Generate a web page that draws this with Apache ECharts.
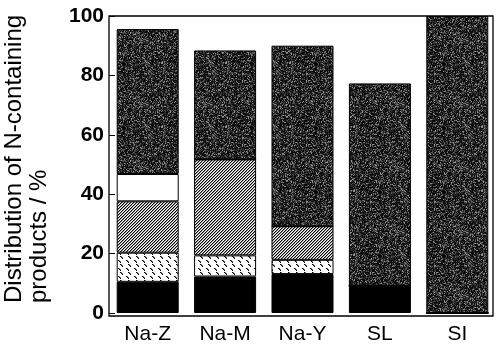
<!DOCTYPE html>
<html>
<head>
<meta charset="utf-8">
<script src="https://cdn.jsdelivr.net/npm/echarts@6/dist/echarts.min.js"></script>
<style>
  html, body { margin: 0; padding: 0; background: #fff; }
  #chart { width: 496px; height: 345px; }
</style>
</head>
<body>
<div id="chart"></div>
<script>
// Catalysts on the x axis
var categories = ['Na-Z', 'Na-M', 'Na-Y', 'SL', 'SI'];

// Share of each N-containing product (%), stacked bottom to top
var solidBlack = [10.5, 12.3, 13.1, 9.2, 0];
var dashed     = [9.8, 7.1, 4.8, 0, 0];
var hatched    = [17.3, 32.3, 11.3, 0, 0];
var blank      = [9.2, 0, 0, 0, 0];
var stippled   = [48.8, 36.7, 60.8, 68.1, 100];

var yTicks = [0, 20, 40, 60, 80, 100];

var FONT = '"Liberation Sans", Arial, Helvetica, sans-serif';

// ---- fill textures ----
function makeCanvas(w, h) {
  var c = document.createElement('canvas');
  c.width = w; c.height = h;
  return c;
}

// dark grey speckle
function stipplePattern() {
  var w = 64, h = 64;
  var c = makeCanvas(w, h), ctx = c.getContext('2d');
  var img = ctx.createImageData(w, h);
  var seed = 12345;
  function rnd() { seed = (seed * 1103515245 + 12345) & 0x7fffffff; return seed / 0x7fffffff; }
  for (var i = 0; i < w * h; i++) {
    var r = rnd();
    var g = r < 0.45 ? 12 : r < 0.72 ? 45 : r < 0.9 ? 85 : 140;
    img.data[i * 4] = g; img.data[i * 4 + 1] = g; img.data[i * 4 + 2] = g; img.data[i * 4 + 3] = 255;
  }
  ctx.putImageData(img, 0, 0);
  return c;
}

// fine "/" diagonal hatching
function hatchPattern() {
  var n = 3;
  var c = makeCanvas(n, n), ctx = c.getContext('2d');
  ctx.fillStyle = '#fff'; ctx.fillRect(0, 0, n, n);
  for (var i = 0; i < n; i++) {
    ctx.fillStyle = '#000';
    ctx.fillRect(i, n - 1 - i, 1, 1);
    ctx.fillStyle = '#9a9a9a';
    ctx.fillRect(i, (n - i) % n, 1, 1);
  }
  return c;
}

// short "\" dashes on white, staggered rows
function dashPattern() {
  var w = 8, h = 8;
  var c = makeCanvas(w, h), ctx = c.getContext('2d');
  ctx.fillStyle = '#fff'; ctx.fillRect(0, 0, w, h);
  ctx.fillStyle = '#000';
  [[0, 0], [1, 1], [2, 2], [6, 4], [7, 5], [0, 6]].forEach(function (p) {
    ctx.fillRect(p[0], p[1], 1, 1);
  });
  ctx.fillStyle = '#777';
  [[1, 0], [2, 1], [7, 4], [0, 5]].forEach(function (p) {
    ctx.fillRect(p[0], p[1], 1, 1);
  });
  return c;
}

var fills = {
  black: '#000',
  dashed: { image: dashPattern(), repeat: 'repeat' },
  hatched: { image: hatchPattern(), repeat: 'repeat' },
  blank: '#fff',
  stippled: { image: stipplePattern(), repeat: 'repeat' }
};

function layer(name, data, fill) {
  return {
    name: name,
    type: 'bar',
    stack: 'total',
    data: data,
    barWidth: 62,
    xAxisIndex: 0,
    yAxisIndex: 0,
    itemStyle: { color: fill, borderColor: '#000', borderWidth: 1 },
    emphasis: { disabled: true },
    animation: false
  };
}

var chart = echarts.init(document.getElementById('chart'), null, { renderer: 'canvas' });

chart.setOption({
  animation: false,
  backgroundColor: '#fff',
  grid: [
    // plotting grid for the bars
    { left: 109, top: 16, width: 392.5, height: 300, containLabel: false },
    // frame around the plot area
    { left: 109, top: 16, width: 384, height: 300, show: true, borderColor: '#000', borderWidth: 1.3, backgroundColor: 'transparent', z: 10 }
  ],
  xAxis: [
    {
      type: 'category',
      gridIndex: 0,
      data: categories,
      boundaryGap: true,
      axisLine: { show: false },
      axisTick: { show: false },
      axisLabel: { color: '#000', fontFamily: FONT, fontSize: 21, margin: 11 }
    },
    { type: 'value', gridIndex: 1, show: false, min: 0, max: 1 }
  ],
  yAxis: [
    {
      type: 'value',
      gridIndex: 0,
      min: yTicks[0],
      max: yTicks[yTicks.length - 1],
      interval: yTicks[1] - yTicks[0],
      axisLine: { show: false },
      axisTick: { show: true, inside: true, length: 6, lineStyle: { color: '#000', width: 1 } },
      splitLine: { show: false },
      axisLabel: { color: '#000', fontFamily: FONT, fontSize: 21, fontWeight: 'bold', margin: 5 }
    },
    { type: 'value', gridIndex: 1, show: false, min: 0, max: 1 }
  ],
  graphic: [
    {
      type: 'text',
      x: 2,
      y: 303,
      rotation: Math.PI / 2,
      style: {
        text: 'Distribution of N-containing\nproducts / %',
        fontFamily: FONT,
        fontSize: 24,
        lineHeight: 25,
        fill: '#000',
        align: 'left',
        verticalAlign: 'top'
      }
    }
  ],
  series: [
    layer('black', solidBlack, fills.black),
    layer('dashed', dashed, fills.dashed),
    layer('hatched', hatched, fills.hatched),
    layer('blank', blank, fills.blank),
    layer('stippled', stippled, fills.stippled)
  ]
});
</script>
</body>
</html>
